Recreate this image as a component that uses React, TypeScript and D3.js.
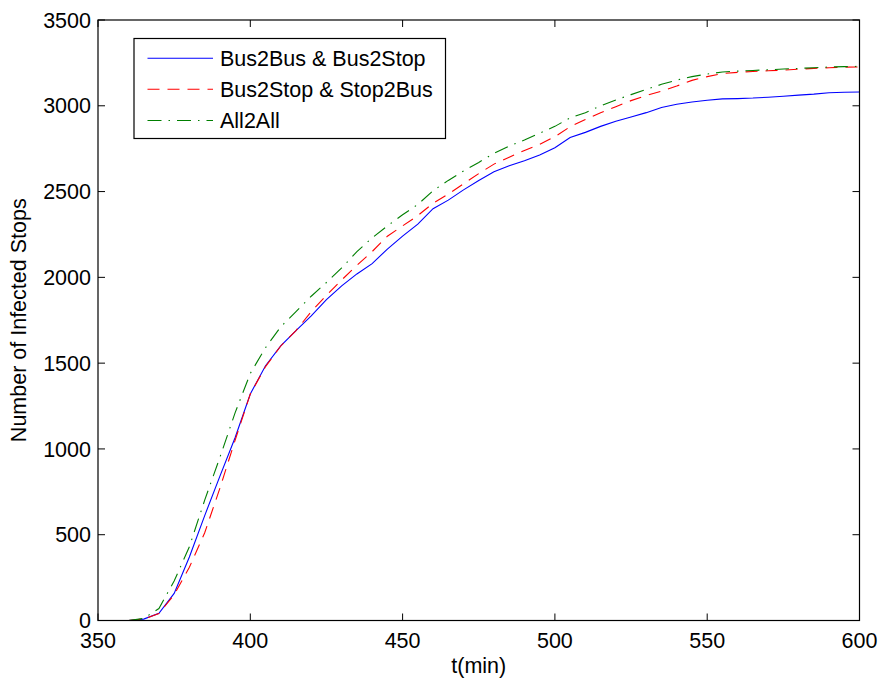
import React, { useRef, useEffect } from 'react';
import * as d3 from 'd3';

const times = [
  360, 365, 370, 375, 380, 385, 390, 395, 400, 405, 410, 415, 420, 425, 430, 435, 440, 445, 450,
  455, 460, 465, 470, 475, 480, 485, 490, 495, 500, 505, 510, 515, 520, 525, 530, 535, 540, 545,
  550, 555, 560, 565, 570, 575, 580, 585, 590, 595, 600,
];

const bus2busValues = [
  0, 8, 42, 158, 370, 610, 840, 1065, 1320, 1485, 1600, 1690, 1775, 1870, 1950, 2020, 2080, 2165, 2240,
  2310, 2400, 2450, 2510, 2565, 2615, 2650, 2680, 2713, 2755, 2815, 2845, 2880, 2910, 2935, 2960, 2990,
  3009, 3022, 3032, 3040, 3042, 3045, 3050, 3056, 3062, 3068, 3076, 3079, 3080,
];

const bus2stopValues = [
  0, 8, 40, 150, 310, 510, 770, 1050, 1320, 1480, 1600, 1690, 1800, 1895, 1985, 2070, 2150, 2240, 2300,
  2360, 2432, 2485, 2545, 2605, 2660, 2700, 2740, 2775, 2820, 2878, 2920, 2960, 2995, 3030, 3060, 3085,
  3115, 3148, 3170, 3188, 3195, 3200, 3204, 3208, 3213, 3218, 3222, 3225, 3226,
];

const all2allValues = [
  0, 12, 70, 230, 430, 700, 950, 1210, 1440, 1590, 1712, 1800, 1890, 1970, 2055, 2150, 2230, 2300, 2365,
  2425, 2505, 2565, 2620, 2670, 2723, 2765, 2800, 2840, 2880, 2930, 2960, 3000, 3034, 3065, 3095, 3125,
  3150, 3170, 3185, 3197, 3202, 3206, 3210, 3214, 3218, 3222, 3226, 3228, 3230,
];

const seriesNames = ['Bus2Bus & Bus2Stop', 'Bus2Stop & Stop2Bus', 'All2All'];
const xTicks = [350, 400, 450, 500, 550, 600];
const yTicks = [0, 500, 1000, 1500, 2000, 2500, 3000, 3500];

const W = 882;
const H = 685;
const FONT = 'Liberation Sans, Arial, sans-serif';

const App = () => {
  const svgRef = useRef<SVGSVGElement>(null);

  useEffect(() => {
    document.body.style.margin = '0';
    const svg = d3.select(svgRef.current);
    svg.selectAll('*').remove();

    const left = 98, right = 859.5, top = 20, bottom = 620.5;
    const x = d3.scaleLinear().domain([350, 600]).range([left, right]);
    const y = d3.scaleLinear().domain([0, 3500]).range([bottom, top]);

    svg.append('rect').attr('width', W).attr('height', H).attr('fill', '#fff');

    const styles = [
      { color: '#0000ff', dash: null },
      { color: '#ff0000', dash: '12,8' },
      { color: '#007f00', dash: '14,7,1.5,7' },
    ];
    const seriesData = [bus2busValues, bus2stopValues, all2allValues];

    const line = d3.line<number>()
      .x((_, i) => x(times[i]))
      .y(d => y(d));

    seriesData.forEach((vals, k) => {
      svg.append('path')
        .datum(vals)
        .attr('fill', 'none')
        .attr('stroke', styles[k].color)
        .attr('stroke-width', 1.1)
        .attr('stroke-dasharray', styles[k].dash)
        .attr('d', line);
    });

    // box
    svg.append('rect')
      .attr('x', left).attr('y', top)
      .attr('width', right - left).attr('height', bottom - top)
      .attr('fill', 'none').attr('stroke', '#000').attr('stroke-width', 1.2);

    const tickLen = 7;
    const g = svg.append('g').attr('stroke', '#000').attr('stroke-width', 1);
    xTicks.forEach(t => {
      g.append('line').attr('x1', x(t)).attr('x2', x(t)).attr('y1', bottom).attr('y2', bottom - tickLen);
      g.append('line').attr('x1', x(t)).attr('x2', x(t)).attr('y1', top).attr('y2', top + tickLen);
    });
    yTicks.forEach(v => {
      g.append('line').attr('x1', left).attr('x2', left + tickLen).attr('y1', y(v)).attr('y2', y(v));
      g.append('line').attr('x1', right).attr('x2', right - tickLen).attr('y1', y(v)).attr('y2', y(v));
    });

    const fs = 21.5;
    xTicks.forEach(t => {
      svg.append('text')
        .attr('x', x(t)).attr('y', bottom + 27.5)
        .attr('text-anchor', 'middle')
        .attr('font-family', FONT).attr('font-size', fs)
        .text(t);
    });
    yTicks.forEach(v => {
      svg.append('text')
        .attr('x', left - 7).attr('y', y(v) + 7.7)
        .attr('text-anchor', 'end')
        .attr('font-family', FONT).attr('font-size', fs)
        .text(v);
    });

    svg.append('text')
      .attr('x', (left + right) / 2).attr('y', 673)
      .attr('text-anchor', 'middle')
      .attr('font-family', FONT).attr('font-size', fs)
      .text('t(min)');

    svg.append('text')
      .attr('transform', `translate(26,${(top + bottom) / 2}) rotate(-90)`)
      .attr('text-anchor', 'middle')
      .attr('font-family', FONT).attr('font-size', fs)
      .text('Number of Infected Stops');

    // legend
    const lg = svg.append('g');
    lg.append('rect')
      .attr('x', 134).attr('y', 38.5).attr('width', 311.5).attr('height', 100)
      .attr('fill', '#fff').attr('stroke', '#000').attr('stroke-width', 1.2);
    const rowY = [58.3, 89.3, 120.5];
    seriesNames.forEach((name, k) => {
      lg.append('line')
        .attr('x1', 147.5).attr('x2', 213).attr('y1', rowY[k]).attr('y2', rowY[k])
        .attr('stroke', styles[k].color).attr('stroke-width', 1.1)
        .attr('stroke-dasharray', styles[k].dash);
      lg.append('text')
        .attr('x', 220).attr('y', rowY[k] + 7.7)
        .attr('font-family', FONT).attr('font-size', fs)
        .text(name);
    });
  }, []);

  return <svg ref={svgRef} width={W} height={H} style={{ display: 'block' }}></svg>;
};

export default App;
